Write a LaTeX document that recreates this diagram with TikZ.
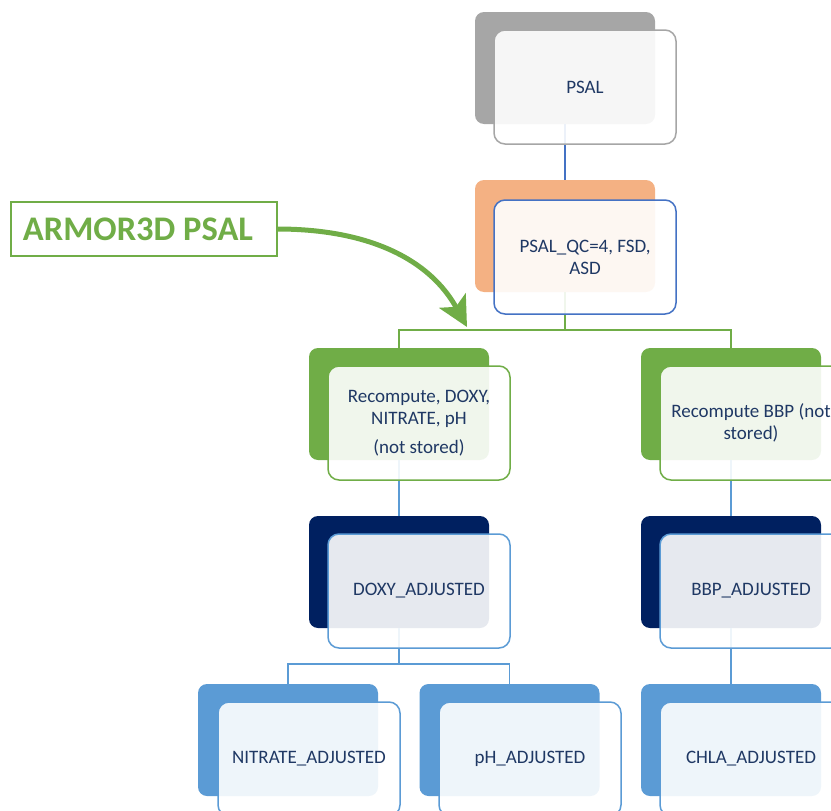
\documentclass[tikz,border=0pt]{standalone}
\usepackage{fontspec}
\setmainfont{Carlito}
\usetikzlibrary{arrows.meta}
\definecolor{txtnavy}{HTML}{1F3864}
\definecolor{greybox}{HTML}{A6A6A6}
\definecolor{orangebox}{HTML}{F4B183}
\definecolor{bluedark}{HTML}{4472C4}
\definecolor{greenbox}{HTML}{70AD47}
\definecolor{navybox}{HTML}{002060}
\definecolor{bluelight}{HTML}{5B9BD5}
\tikzset{
  backbox/.style={rounded corners=9pt, minimum width=180pt, minimum height=112pt,
    inner sep=0pt, outer sep=0pt, fill=#1},
  frontbox/.style={rounded corners=11pt, minimum width=182pt, minimum height=114pt,
    inner sep=0pt, outer sep=0pt, draw=#1, line width=1.5pt, fill=white,
    fill opacity=0.9, text opacity=1, text=txtnavy, align=center,
    font=\fontsize{19}{22}\selectfont},
  link/.style={line width=1.8pt, draw=#1},
}
\begin{document}
\begin{tikzpicture}[x=1pt,y=-1pt]
\useasboundingbox (0,0) rectangle (831,811);
\clip (0,0) rectangle (831,811);

% back plates
\node[backbox=greybox]   (psalb) at (565,68)  {};
\node[backbox=orangebox] (qcb)   at (565,236) {};
\node[backbox=greenbox]  (rdb)   at (399,404) {};
\node[backbox=greenbox]  (rbb)   at (731,404) {};
\node[backbox=navybox]   (dab)   at (399,572) {};
\node[backbox=navybox]   (bab)   at (731,572) {};
\node[backbox=bluelight] (nab)   at (288,740) {};
\node[backbox=bluelight] (pab)   at (509.5,740) {};
\node[backbox=bluelight] (cab)   at (731,740) {};

% connectors between plates
\coordinate (j1) at (565,330);
\coordinate (j2) at (399,664);
\draw[link=bluedark] (psalb.south) -- (qcb.north);
\draw[link=greenbox] (qcb.south) -- (j1) -| (rdb.north);
\draw[link=greenbox] (j1) -| (rbb.north);
\draw[link=bluelight] (rdb.south) -- (dab.north);
\draw[link=bluelight] (rbb.south) -- (bab.north);
\draw[link=bluelight] (dab.south) -- (j2) -| (nab.north);
\draw[link=bluelight] (j2) -| (pab.north);
\draw[link=bluelight] (bab.south) -- (cab.north);

% text cards
\node[frontbox=greybox]   (psal) at (585,87)  {PSAL};
\node[frontbox=bluedark]  (qc)   at (585,257) {PSAL\_QC=4, FSD,\\ASD};
\node[frontbox=greenbox]  (rd)   at (419,423) {Recompute, DOXY,\\NITRATE, pH\\[7pt](not stored)};
\node[frontbox=greenbox]  (rb)   at (751,423) {Recompute BBP (not\\stored)};
\node[frontbox=bluelight] (da)   at (419,591) {DOXY\_ADJUSTED};
\node[frontbox=bluelight] (ba)   at (751,591) {BBP\_ADJUSTED};
\node[frontbox=bluelight] (na)   at (309,759) {NITRATE\_ADJUSTED};
\node[frontbox=bluelight] (pa)   at (530,759) {pH\_ADJUSTED};
\node[frontbox=bluelight] (ca)   at (751,759) {CHLA\_ADJUSTED};

% ARMOR3D label and its arrow
\node[draw=greenbox, line width=1.5pt, fill=white, minimum width=266pt,
      minimum height=54pt, inner sep=0pt, outer sep=0pt, text=greenbox,
      font=\fontsize{34.5}{40}\bfseries\selectfont] (armor) at (144,229)
      {\hspace*{-12pt}ARMOR3D PSAL};
\coordinate (tip) at (467,327);
\draw[greenbox, line width=5pt, -{Stealth[length=30pt,width=30pt,inset=7pt]}]
  (armor.east) .. controls (370,229) and (430,260) .. (tip);
\end{tikzpicture}
\end{document}
